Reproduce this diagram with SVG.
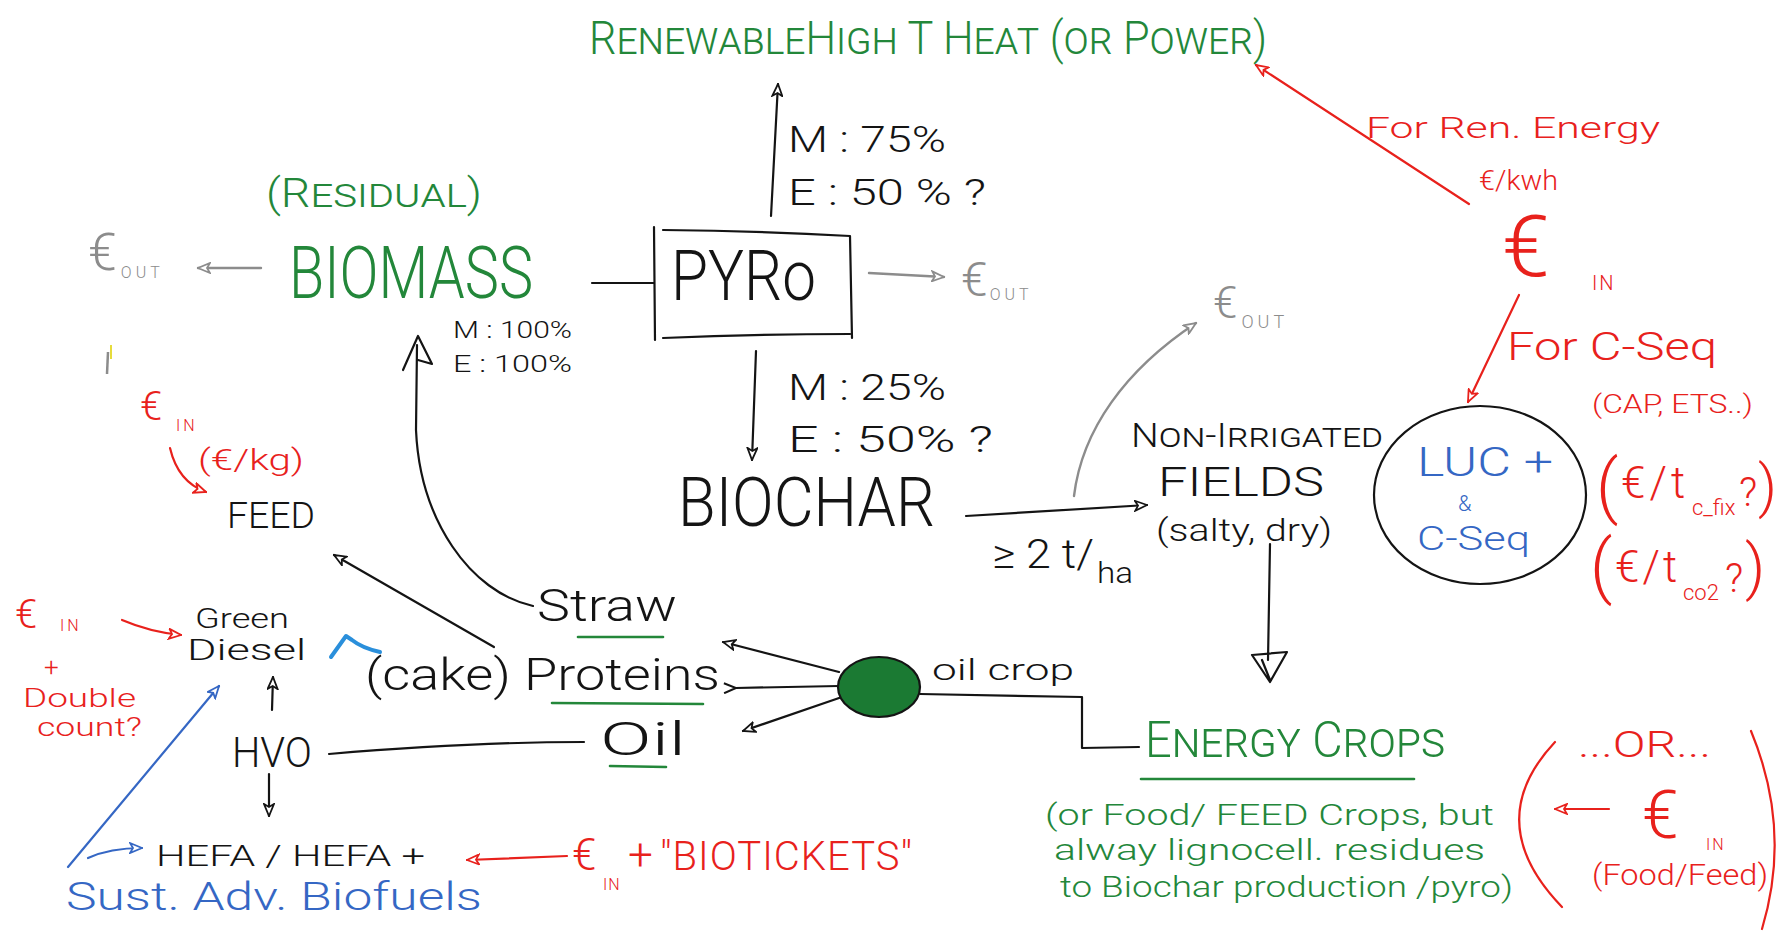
<svg xmlns="http://www.w3.org/2000/svg" width="1777" height="937" viewBox="0 0 1777 937">
<style>
text{font-family:Roboto,"Liberation Sans",sans-serif;font-weight:300}
.k{fill:#141414}.g{fill:#23873a}.r{fill:#e8211c}.gr{fill:#8c8c8c}.b{fill:#3567c4}
.sc{font-variant:small-caps}
.lk{stroke:#141414;stroke-width:2.2;fill:none;stroke-linecap:round;stroke-linejoin:round}
.lr{stroke:#e8211c;stroke-width:2.2;fill:none;stroke-linecap:round}
.lgr{stroke:#8c8c8c;stroke-width:2.4;fill:none;stroke-linecap:round}
.lb{stroke:#3567c4;stroke-width:2.2;fill:none;stroke-linecap:round}
.lg{stroke:#23873a;stroke-width:2.6;fill:none;stroke-linecap:round}
</style>
<defs>
<marker id="ak" viewBox="0 0 14 12" refX="13" refY="6" markerWidth="14" markerHeight="12" markerUnits="userSpaceOnUse" orient="auto"><path d="M1,1 L13,6 L1,11 L4,6 Z" fill="#fff" stroke="#141414" stroke-width="1.8"/></marker>
<marker id="ar" viewBox="0 0 14 12" refX="13" refY="6" markerWidth="14" markerHeight="12" markerUnits="userSpaceOnUse" orient="auto"><path d="M1,1 L13,6 L1,11 L4,6 Z" fill="#fff" stroke="#e8211c" stroke-width="1.8"/></marker>
<marker id="agr" viewBox="0 0 14 12" refX="13" refY="6" markerWidth="14" markerHeight="12" markerUnits="userSpaceOnUse" orient="auto"><path d="M1,1 L13,6 L1,11 L4,6 Z" fill="#fff" stroke="#8c8c8c" stroke-width="1.8"/></marker>
<marker id="ab" viewBox="0 0 14 12" refX="13" refY="6" markerWidth="14" markerHeight="12" markerUnits="userSpaceOnUse" orient="auto"><path d="M1,1 L13,6 L1,11 L4,6 Z" fill="#fff" stroke="#3567c4" stroke-width="1.8"/></marker>
<marker id="av" viewBox="0 0 16 12" refX="2" refY="6" markerWidth="16" markerHeight="12" markerUnits="userSpaceOnUse" orient="auto"><path d="M14,1 L2,6 L14,11" fill="none" stroke="#141414" stroke-width="2"/></marker>
</defs>

<g id="connectors">
<path class="lgr" d="M261,268 L198,268" marker-end="url(#agr)"/>
<path class="lk" d="M592,283 L654,283"/>
<path class="lk" d="M771,216 L778,84" marker-end="url(#ak)"/>
<path class="lgr" d="M869,273 L944,277" marker-end="url(#agr)"/>
<path class="lk" d="M756,351 L752,460" marker-end="url(#ak)"/>
<path class="lk" d="M966,516 L1147,505" marker-end="url(#ak)"/>
<path class="lgr" d="M1074,496 C1082,430 1125,370 1196,323" marker-end="url(#agr)"/>
<path class="lk" d="M1270,544 L1268,660"/>
<path class="lk" d="M1252,655 L1287,652 L1270,682 Z M1262,660 L1270,680" fill="#fff"/>
<path class="lk" d="M533,606 C470,592 420,520 416,430 L417,345"/>
<path class="lk" d="M403,370 L418,336 L432,364 L418,360"/>
<path class="lk" d="M494,647 L334,555" marker-end="url(#ak)"/>
<path class="lk" d="M839,672 L723,642" marker-end="url(#ak)"/>
<path class="lk" d="M839,686 L736,688" marker-end="url(#av)"/>
<path class="lk" d="M842,697 L743,731" marker-end="url(#ak)"/>
<path class="lk" d="M920,694 L1082,697 L1082,748 L1139,747"/>
<path class="lk" d="M584,742 C500,742 400,748 329,754"/>
<path class="lk" d="M272,710 L273,677" marker-end="url(#ak)"/>
<path class="lk" d="M269,774 L269,816" marker-end="url(#ak)"/>
<path class="lb" d="M68,867 L219,686" marker-end="url(#ab)"/>
<path class="lb" d="M88,858 Q110,848 142,848" marker-end="url(#ab)"/>
<path class="lr" d="M567,856 L467,860" marker-end="url(#ar)"/>
<path class="lr" d="M122,620 Q150,632 181,635" marker-end="url(#ar)"/>
<path class="lr" d="M170,448 Q178,482 206,492" marker-end="url(#ar)"/>
<path class="lr" d="M1469,204 L1256,65" marker-end="url(#ar)"/>
<path class="lr" d="M1519,295 L1468,402" marker-end="url(#ar)"/>
<path class="lr" d="M1609,809 L1555,809" marker-end="url(#ar)"/>
</g>

<g id="heat"><text class="g sc" x="589" y="54" font-size="46" textLength="678" lengthAdjust="spacingAndGlyphs">RenewableHigh T Heat (or Power)</text></g>

<g id="heat-share">
<text class="k" x="788" y="152" font-size="36" textLength="158" lengthAdjust="spacingAndGlyphs">M : 75%</text>
<text class="k" x="788" y="205" font-size="36" textLength="198" lengthAdjust="spacingAndGlyphs">E : 50 % ?</text>
</g>

<g id="biomass">
<text class="g sc" x="266" y="207" font-size="40" textLength="216" lengthAdjust="spacingAndGlyphs">(Residual)</text>
<text class="g" x="289" y="298" font-size="72" textLength="244" lengthAdjust="spacingAndGlyphs">BIOMASS</text>
</g>

<g id="eout-left">
<text class="gr" x="88" y="270" font-size="52">€<tspan font-size="16" dx="4" dy="8" letter-spacing="4">OUT</tspan></text>
</g>

<g id="biomass-share">
<text class="k" x="453" y="338" font-size="24" textLength="119" lengthAdjust="spacingAndGlyphs">M : 100%</text>
<text class="k" x="453" y="372" font-size="24" textLength="119" lengthAdjust="spacingAndGlyphs">E : 100%</text>
</g>

<path d="M108,352 L107,374" stroke="#8c8c8c" stroke-width="2.5" fill="none"/>
<path d="M111,345 L111,359" stroke="#e6dc3c" stroke-width="2" fill="none"/>

<g id="pyro">
<path class="lk" d="M654,227 L655,340 M663,230 Q760,231 850,236 L852,338 M663,338 Q760,334 850,334"/>
<text class="k" x="671" y="300" font-size="70" textLength="145" lengthAdjust="spacingAndGlyphs">PYRo</text>
</g>

<g id="eout-pyro">
<text class="gr" x="961" y="296" font-size="48">€<tspan font-size="16" dx="2" dy="4" letter-spacing="4">OUT</tspan></text>
</g>

<g id="biochar-share">
<text class="k" x="788" y="400" font-size="36" textLength="158" lengthAdjust="spacingAndGlyphs">M : 25%</text>
<text class="k" x="788" y="452" font-size="36" textLength="205" lengthAdjust="spacingAndGlyphs">E : 50% ?</text>
</g>

<g id="biochar"><text class="k" x="678" y="526" font-size="68" textLength="257" lengthAdjust="spacingAndGlyphs">BIOCHAR</text></g>

<g id="rate">
<text class="k" x="992" y="568" font-size="40" textLength="102" lengthAdjust="spacingAndGlyphs">≥ 2 t/</text>
<text class="k" x="1097" y="583" font-size="30" textLength="36" lengthAdjust="spacingAndGlyphs">ha</text>
</g>

<g id="eout-fields">
<text class="gr" x="1213" y="318" font-size="44">€<tspan font-size="18" dx="4" dy="10" letter-spacing="4">OUT</tspan></text>
</g>

<g id="fields">
<text class="k sc" x="1131" y="447" font-size="33" textLength="252" lengthAdjust="spacingAndGlyphs">Non-Irrigated</text>
<text class="k" x="1158" y="496" font-size="40" textLength="166" lengthAdjust="spacingAndGlyphs">FIELDS</text>
<text class="k" x="1156" y="541" font-size="31" textLength="176" lengthAdjust="spacingAndGlyphs">(salty, dry)</text>
</g>

<g id="luc">
<ellipse cx="1480" cy="495" rx="106" ry="89" class="lk"/>
<text class="b" x="1417" y="476" font-size="40" textLength="136" lengthAdjust="spacingAndGlyphs">LUC +</text>
<text class="b" x="1458" y="511" font-size="22">&amp;</text>
<text class="b" x="1417" y="550" font-size="34" textLength="113" lengthAdjust="spacingAndGlyphs">C-Seq</text>
</g>

<g id="ein-top">
<text class="r" x="1366" y="138" font-size="30" textLength="294" lengthAdjust="spacingAndGlyphs">For Ren. Energy</text>
<text class="r" x="1479" y="190" font-size="28" textLength="79" lengthAdjust="spacingAndGlyphs">€/kwh</text>
<text class="r" x="1502" y="276" font-size="86">€<tspan x="1592" y="290" font-size="20" letter-spacing="2">IN</tspan></text>
<text class="r" x="1507" y="360" font-size="38" textLength="210" lengthAdjust="spacingAndGlyphs">For C-Seq</text>
<text class="r" x="1592" y="413" font-size="26" textLength="161" lengthAdjust="spacingAndGlyphs">(CAP, ETS..)</text>
<text class="r" font-size="44"><tspan x="1596" y="510" font-size="70">(</tspan><tspan x="1621" y="498" letter-spacing="4">€/t</tspan><tspan x="1692" y="515" font-size="22">c_fix</tspan><tspan x="1739" y="506" font-size="40">?</tspan><tspan x="1758" y="506" font-size="58">)</tspan></text>
<text class="r" font-size="44"><tspan x="1590" y="590" font-size="70">(</tspan><tspan x="1615" y="582" letter-spacing="3">€/t</tspan><tspan x="1683" y="600" font-size="22">co2</tspan><tspan x="1725" y="592" font-size="40">?</tspan><tspan x="1745" y="588" font-size="62">)</tspan></text>
</g>

<g id="ein-feed">
<text class="r" x="140" y="420" font-size="40">€<tspan x="176" y="431" font-size="16" letter-spacing="3">IN</tspan></text>
<text class="r" x="198" y="470" font-size="30" textLength="106" lengthAdjust="spacingAndGlyphs">(€/kg)</text>
</g>

<g id="feed"><text class="k" x="227" y="528" font-size="36" textLength="88" lengthAdjust="spacingAndGlyphs">FEED</text></g>

<g id="ein-diesel">
<text class="r" x="15" y="628" font-size="40">€<tspan x="60" y="631" font-size="16" letter-spacing="3">IN</tspan></text>
<text class="r" x="44" y="676" font-size="26">+</text>
<text class="r" x="23" y="707" font-size="26" textLength="113" lengthAdjust="spacingAndGlyphs">Double</text>
<text class="r" x="37" y="736" font-size="26" textLength="105" lengthAdjust="spacingAndGlyphs">count?</text>
</g>

<g id="green-diesel">
<text class="k" x="195" y="628" font-size="28" textLength="94" lengthAdjust="spacingAndGlyphs">Green</text>
<text class="k" x="187" y="660" font-size="30" textLength="119" lengthAdjust="spacingAndGlyphs">Diesel</text>
<path d="M331,657 L346,636 L352,640 Q362,648 380,652" stroke="#2a8fdb" stroke-width="4" fill="none" stroke-linecap="round" stroke-linejoin="round"/>
</g>

<g id="hvo"><text class="k" x="232" y="767" font-size="42" textLength="80" lengthAdjust="spacingAndGlyphs">HVO</text></g>

<g id="hefa">
<text class="k" x="156" y="866" font-size="30" textLength="269" lengthAdjust="spacingAndGlyphs">HEFA / HEFA +</text>
<text class="b" x="66" y="910" font-size="38" textLength="416" lengthAdjust="spacingAndGlyphs">Sust. Adv. Biofuels</text>
</g>

<g id="biotickets">
<text class="r" font-size="44"><tspan x="572" y="870">€</tspan><tspan x="603" y="890" font-size="16" letter-spacing="1">IN</tspan><tspan x="628" y="870">+</tspan><tspan x="660" y="870" font-size="40" letter-spacing="1">"BIOTICKETS"</tspan></text>
</g>

<g id="straw">
<text class="k" x="537" y="621" font-size="44" textLength="140" lengthAdjust="spacingAndGlyphs">Straw</text>
<path class="lg" d="M578,637 L663,637"/>
</g>

<g id="proteins">
<text class="k" x="365" y="690" font-size="44" textLength="355" lengthAdjust="spacingAndGlyphs">(cake) Proteins</text>
<path class="lg" d="M552,703 L703,704"/>
</g>

<g id="oil">
<text class="k" x="600" y="755" font-size="46" textLength="86" lengthAdjust="spacingAndGlyphs">Oil</text>
<path class="lg" d="M610,766 L666,767"/>
</g>

<g id="oil-crop">
<ellipse cx="879" cy="687" rx="41" ry="30" fill="#1b7a33" stroke="#141414" stroke-width="2.2"/>
<text class="k" x="932" y="680" font-size="30" textLength="142" lengthAdjust="spacingAndGlyphs">oil crop</text>
</g>

<g id="energy-crops">
<text class="g sc" x="1145" y="757" font-size="50" textLength="300" lengthAdjust="spacingAndGlyphs">Energy Crops</text>
<path class="lg" d="M1141,779 L1414,779"/>
<text class="g" x="1045" y="825" font-size="30" textLength="449" lengthAdjust="spacingAndGlyphs">(or Food/ FEED Crops, but</text>
<text class="g" x="1054" y="860" font-size="30" textLength="431" lengthAdjust="spacingAndGlyphs">alway lignocell. residues</text>
<text class="g" x="1060" y="897" font-size="30" textLength="453" lengthAdjust="spacingAndGlyphs">to Biochar production /pyro)</text>
</g>

<g id="ein-food">
<path class="lr" d="M1555,742 Q1480,822 1562,907"/>
<path class="lr" d="M1751,731 Q1792,830 1762,929"/>
<text class="r" x="1578" y="757" font-size="36" textLength="133" lengthAdjust="spacingAndGlyphs">...OR...</text>
<text class="r" x="1642" y="838" font-size="66">€<tspan x="1706" y="850" font-size="16" letter-spacing="2">IN</tspan></text>
<text class="r" x="1592" y="885" font-size="30" textLength="176" lengthAdjust="spacingAndGlyphs">(Food/Feed)</text>
</g>
</svg>
